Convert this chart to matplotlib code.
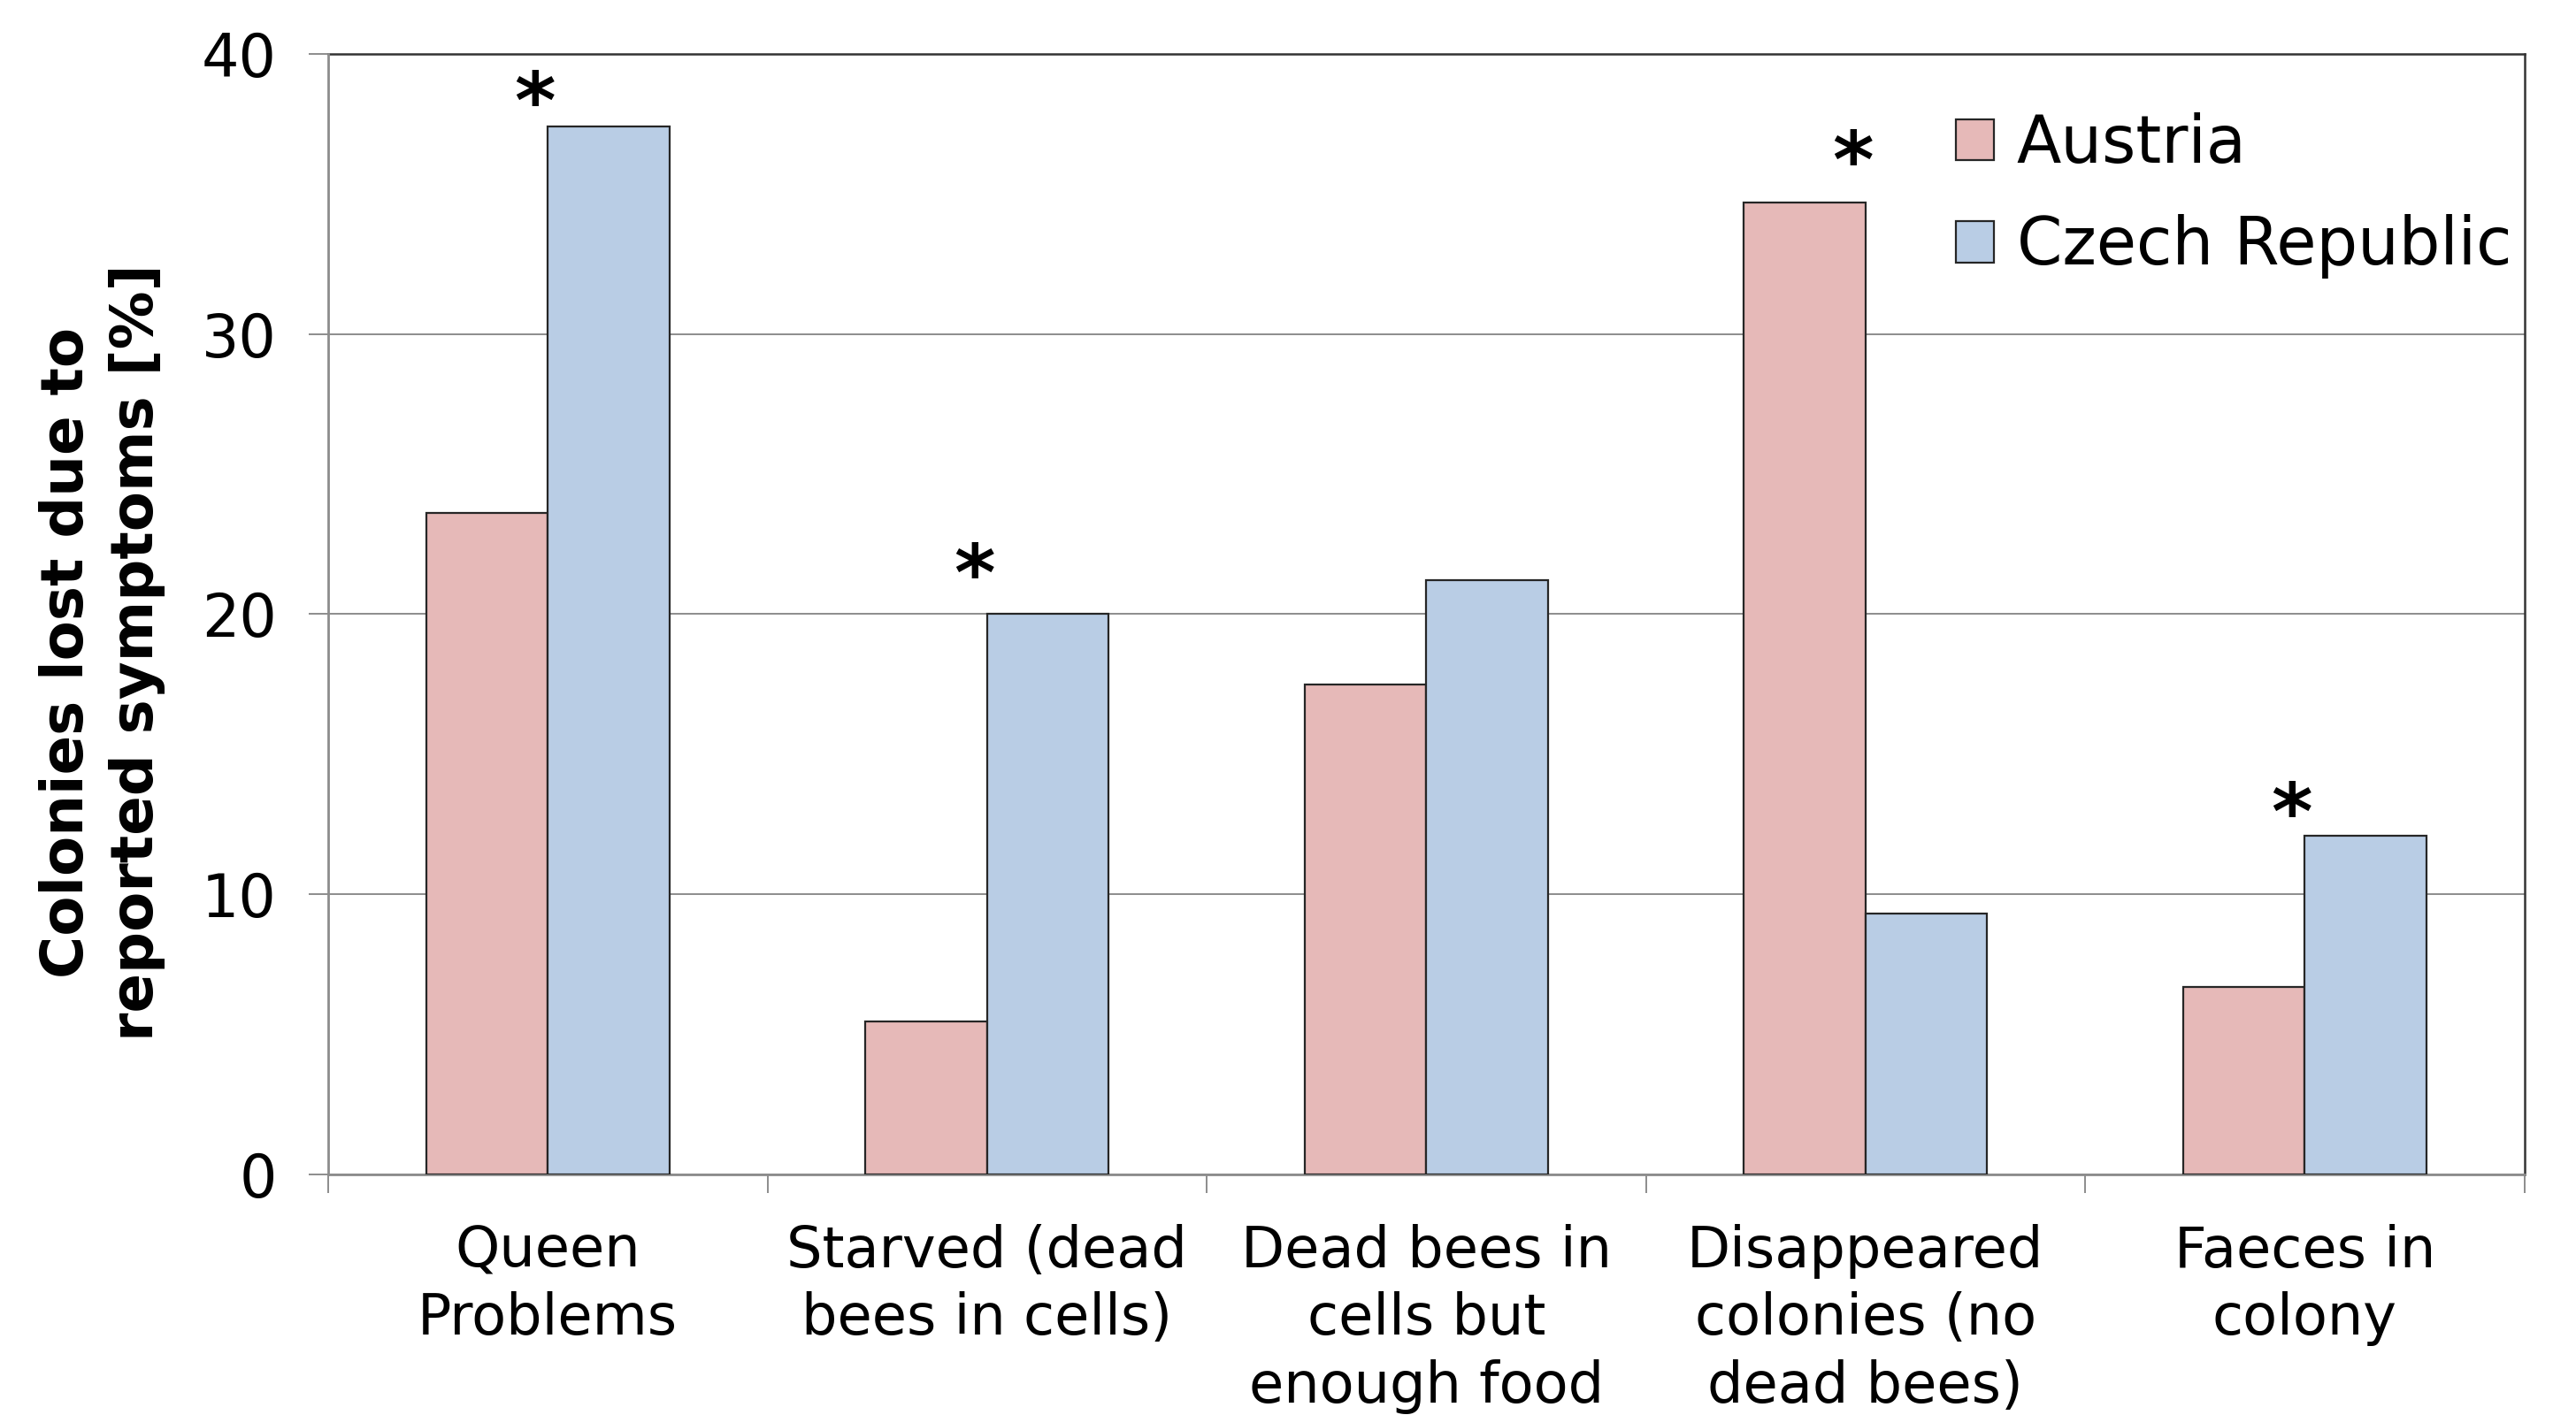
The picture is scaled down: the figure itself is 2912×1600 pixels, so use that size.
#!/usr/bin/env python3
"""Colony losses by reported symptom, Austria vs Czech Republic (Excel-style bars)."""
import numpy as np
import matplotlib
matplotlib.use("Agg")
import matplotlib.pyplot as plt

# ---------------------------------------------------------------- data

categories = [
    "Queen\nProblems",
    "Starved (dead\nbees in cells)",
    "Dead bees in\ncells but\nenough food",
    "Disappeared\ncolonies (no\ndead bees)",
    "Faeces in\ncolony",
]
austria = [23.6, 5.45, 17.5, 34.7, 6.7]
czech = [37.4, 20.0, 21.2, 9.3, 12.1]
# significance marks: (category index, y of the star)
stars = [(0, 38.1), (1, 21.25), (3, 36.0), (4, 12.75)]
yticks = [0, 10, 20, 30, 40]

# ---------------------------------------------------------------- style

PINK = "#E6B9B8"
BLUE = "#B9CDE5"
EDGE = "#262626"
GRID = "#8C8C8C"
FONT = "DejaVu Sans"

plt.rcParams["font.family"] = [FONT]

fig = plt.figure(figsize=(14.56, 8.0), dpi=200)
ax = fig.add_axes([0.1274, 0.170, 0.8526, 0.792])

x = np.arange(len(categories))
w = 0.277
ax.bar(x - w / 2, austria, w, color=PINK, edgecolor=EDGE, lw=0.8,
       label="Austria", zorder=3)
ax.bar(x + w / 2, czech, w, color=BLUE, edgecolor=EDGE, lw=0.8,
       label="Czech Republic", zorder=3)

for i, yy in stars:
    ax.text(x[i] - 0.03, yy, "*", ha="center", va="center", fontsize=32,
            fontweight="bold", color="black", zorder=4)

ax.set_xlim(-0.5, len(categories) - 0.5)
ax.set_ylim(0, 40)

# y axis: gray gridlines, outward gray ticks
ax.set_yticks(yticks)
ax.yaxis.grid(True, color=GRID, lw=0.7, zorder=0)
ax.tick_params(axis="y", direction="out", length=8, width=0.7, color=GRID,
               labelsize=24, pad=13)

# x axis: labels centred on groups, ticks on the group boundaries
ax.set_xticks(x)
ax.set_xticklabels(categories, fontsize=23, linespacing=1.3)
ax.set_xticks(np.arange(len(categories) + 1) - 0.5, minor=True)
ax.tick_params(axis="x", which="major", length=0, pad=20)
ax.tick_params(axis="x", which="minor", direction="out", length=7.5,
               width=0.7, color=GRID)

for side in ("top", "right"):
    ax.spines[side].set_color("#333333")
    ax.spines[side].set_linewidth(0.9)
for side in ("left", "bottom"):
    ax.spines[side].set_color(GRID)
    ax.spines[side].set_linewidth(1.0)
ax.spines["left"].set_zorder(5)

ax.set_ylabel("Colonies lost due to\nreported symptoms [%]", fontsize=23.7,
              fontweight="bold", linespacing=1.3)
ax.yaxis.set_label_coords(-0.074, 0.466)

leg = ax.legend(loc="upper left", bbox_to_anchor=(0.741, 0.948), frameon=False,
                fontsize=26.5, handlelength=0.59, handleheight=0.59,
                handletextpad=0.35, labelspacing=0.58, borderpad=0,
                borderaxespad=0)

fig.savefig("out.png", dpi=200)
